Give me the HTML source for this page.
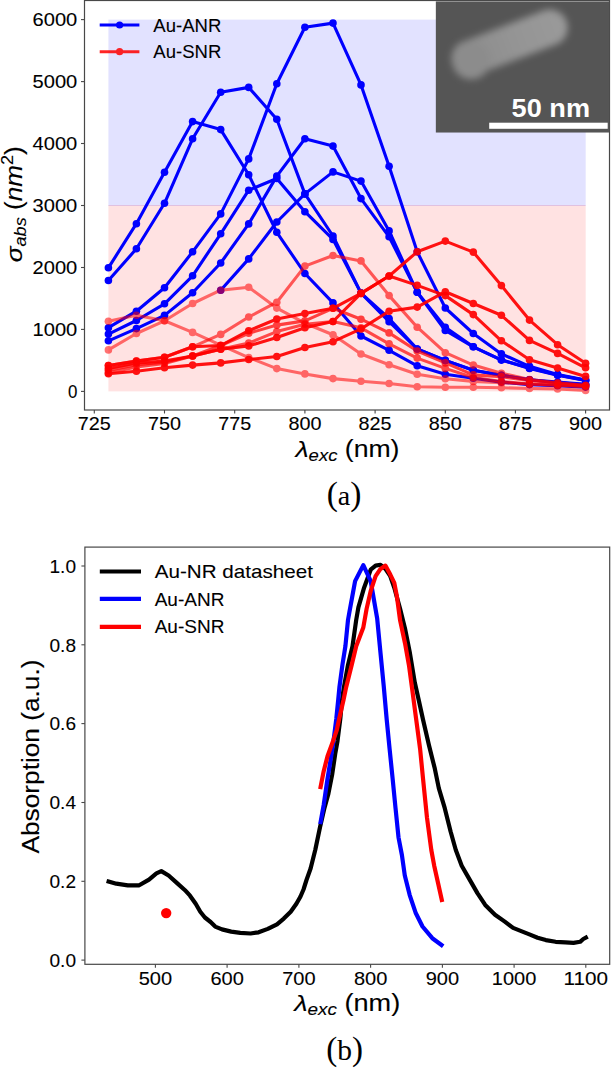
<!DOCTYPE html>
<html><head><meta charset="utf-8"><title>Figure</title>
<style>
html,body{margin:0;padding:0;background:#fff;}
body{width:612px;height:1068px;overflow:hidden;font-family:"Liberation Sans", sans-serif;}
svg{display:block;}
text.t{stroke:#000;stroke-width:0.1px;}
</style></head><body>
<svg width="612" height="1068" viewBox="0 0 612 1068">
<rect x="0" y="0" width="612" height="1068" fill="#fff"/>
<defs>
<filter id="blur3" x="-30%" y="-60%" width="160%" height="220%"><feGaussianBlur stdDeviation="3.6"/></filter>
<filter id="blur1" x="-30%" y="-60%" width="160%" height="220%"><feGaussianBlur stdDeviation="1.2"/></filter>
<clipPath id="insetclip"><rect x="435.6" y="1.2" width="174" height="131.5"/></clipPath>
<linearGradient id="rodg" x1="0" y1="0" x2="1" y2="0">
<stop offset="0" stop-color="#8a8a8a"/><stop offset="0.6" stop-color="#959595"/><stop offset="1" stop-color="#9a9a9a"/>
</linearGradient>
</defs>
<rect x="108.4" y="19.6" width="477.3" height="185.9" fill="#0000ff" fill-opacity="0.115"/>
<rect x="108.4" y="205.5" width="477.3" height="185.9" fill="#ff0000" fill-opacity="0.115"/>
<line x1="108.4" y1="205.5" x2="585.6" y2="205.5" stroke="#c080c0" stroke-opacity="0.35" stroke-width="1"/>
<g opacity="1.0">
<polyline points="108.4,267.8 136.4,223.7 164.5,172.2 192.6,121.6 220.7,129.6 248.7,174.7 276.8,232.3 304.9,273.5 333.0,302.9 361.0,336.0 389.1,350.3 417.2,365.8 445.3,374.2 473.3,378.2 501.4,382.1 529.5,384.6 557.6,385.8 585.6,387.1" fill="none" stroke="#0000ff" stroke-width="3.1" stroke-linejoin="round" stroke-linecap="butt"/>
<circle cx="108.4" cy="267.8" r="3.8" fill="#0000ff"/>
<circle cx="136.4" cy="223.7" r="3.8" fill="#0000ff"/>
<circle cx="164.5" cy="172.2" r="3.8" fill="#0000ff"/>
<circle cx="192.6" cy="121.6" r="3.8" fill="#0000ff"/>
<circle cx="220.7" cy="129.6" r="3.8" fill="#0000ff"/>
<circle cx="248.7" cy="174.7" r="3.8" fill="#0000ff"/>
<circle cx="276.8" cy="232.3" r="3.8" fill="#0000ff"/>
<circle cx="304.9" cy="273.5" r="3.8" fill="#0000ff"/>
<circle cx="333.0" cy="302.9" r="3.8" fill="#0000ff"/>
<circle cx="361.0" cy="336.0" r="3.8" fill="#0000ff"/>
<circle cx="389.1" cy="350.3" r="3.8" fill="#0000ff"/>
<circle cx="417.2" cy="365.8" r="3.8" fill="#0000ff"/>
<circle cx="445.3" cy="374.2" r="3.8" fill="#0000ff"/>
<circle cx="473.3" cy="378.2" r="3.8" fill="#0000ff"/>
<circle cx="501.4" cy="382.1" r="3.8" fill="#0000ff"/>
<circle cx="529.5" cy="384.6" r="3.8" fill="#0000ff"/>
<circle cx="557.6" cy="385.8" r="3.8" fill="#0000ff"/>
<circle cx="585.6" cy="387.1" r="3.8" fill="#0000ff"/>
</g>
<g opacity="1.0">
<polyline points="108.4,280.5 136.4,248.8 164.5,203.3 192.6,138.8 220.7,92.3 248.7,87.4 276.8,119.3 304.9,193.9 333.0,236.0 361.0,293.1 389.1,318.5 417.2,349.0 445.3,360.4 473.3,370.3 501.4,375.2 529.5,379.7 557.6,382.0 585.6,384.3" fill="none" stroke="#0000ff" stroke-width="3.1" stroke-linejoin="round" stroke-linecap="butt"/>
<circle cx="108.4" cy="280.5" r="3.8" fill="#0000ff"/>
<circle cx="136.4" cy="248.8" r="3.8" fill="#0000ff"/>
<circle cx="164.5" cy="203.3" r="3.8" fill="#0000ff"/>
<circle cx="192.6" cy="138.8" r="3.8" fill="#0000ff"/>
<circle cx="220.7" cy="92.3" r="3.8" fill="#0000ff"/>
<circle cx="248.7" cy="87.4" r="3.8" fill="#0000ff"/>
<circle cx="276.8" cy="119.3" r="3.8" fill="#0000ff"/>
<circle cx="304.9" cy="193.9" r="3.8" fill="#0000ff"/>
<circle cx="333.0" cy="236.0" r="3.8" fill="#0000ff"/>
<circle cx="361.0" cy="293.1" r="3.8" fill="#0000ff"/>
<circle cx="389.1" cy="318.5" r="3.8" fill="#0000ff"/>
<circle cx="417.2" cy="349.0" r="3.8" fill="#0000ff"/>
<circle cx="445.3" cy="360.4" r="3.8" fill="#0000ff"/>
<circle cx="473.3" cy="370.3" r="3.8" fill="#0000ff"/>
<circle cx="501.4" cy="375.2" r="3.8" fill="#0000ff"/>
<circle cx="529.5" cy="379.7" r="3.8" fill="#0000ff"/>
<circle cx="557.6" cy="382.0" r="3.8" fill="#0000ff"/>
<circle cx="585.6" cy="384.3" r="3.8" fill="#0000ff"/>
</g>
<g opacity="1.0">
<polyline points="108.4,327.7 136.4,311.2 164.5,287.7 192.6,251.8 220.7,213.9 248.7,158.9 276.8,83.7 304.9,27.3 333.0,23.1 361.0,84.9 389.1,166.3 417.2,251.8 445.3,308.0 473.3,333.5 501.4,353.9 529.5,366.3 557.6,374.4 585.6,379.9" fill="none" stroke="#0000ff" stroke-width="3.1" stroke-linejoin="round" stroke-linecap="butt"/>
<circle cx="108.4" cy="327.7" r="3.8" fill="#0000ff"/>
<circle cx="136.4" cy="311.2" r="3.8" fill="#0000ff"/>
<circle cx="164.5" cy="287.7" r="3.8" fill="#0000ff"/>
<circle cx="192.6" cy="251.8" r="3.8" fill="#0000ff"/>
<circle cx="220.7" cy="213.9" r="3.8" fill="#0000ff"/>
<circle cx="248.7" cy="158.9" r="3.8" fill="#0000ff"/>
<circle cx="276.8" cy="83.7" r="3.8" fill="#0000ff"/>
<circle cx="304.9" cy="27.3" r="3.8" fill="#0000ff"/>
<circle cx="333.0" cy="23.1" r="3.8" fill="#0000ff"/>
<circle cx="361.0" cy="84.9" r="3.8" fill="#0000ff"/>
<circle cx="389.1" cy="166.3" r="3.8" fill="#0000ff"/>
<circle cx="417.2" cy="251.8" r="3.8" fill="#0000ff"/>
<circle cx="445.3" cy="308.0" r="3.8" fill="#0000ff"/>
<circle cx="473.3" cy="333.5" r="3.8" fill="#0000ff"/>
<circle cx="501.4" cy="353.9" r="3.8" fill="#0000ff"/>
<circle cx="529.5" cy="366.3" r="3.8" fill="#0000ff"/>
<circle cx="557.6" cy="374.4" r="3.8" fill="#0000ff"/>
<circle cx="585.6" cy="379.9" r="3.8" fill="#0000ff"/>
</g>
<g opacity="1.0">
<polyline points="108.4,334.1 136.4,320.5 164.5,303.8 192.6,275.8 220.7,233.8 248.7,190.2 276.8,178.5 304.9,211.7 333.0,239.4 361.0,293.1 389.1,321.7 417.2,349.0 445.3,360.4 473.3,370.3 501.4,375.2 529.5,379.7 557.6,382.7 585.6,384.6" fill="none" stroke="#0000ff" stroke-width="3.1" stroke-linejoin="round" stroke-linecap="butt"/>
<circle cx="108.4" cy="334.1" r="3.8" fill="#0000ff"/>
<circle cx="136.4" cy="320.5" r="3.8" fill="#0000ff"/>
<circle cx="164.5" cy="303.8" r="3.8" fill="#0000ff"/>
<circle cx="192.6" cy="275.8" r="3.8" fill="#0000ff"/>
<circle cx="220.7" cy="233.8" r="3.8" fill="#0000ff"/>
<circle cx="248.7" cy="190.2" r="3.8" fill="#0000ff"/>
<circle cx="276.8" cy="178.5" r="3.8" fill="#0000ff"/>
<circle cx="304.9" cy="211.7" r="3.8" fill="#0000ff"/>
<circle cx="333.0" cy="239.4" r="3.8" fill="#0000ff"/>
<circle cx="361.0" cy="293.1" r="3.8" fill="#0000ff"/>
<circle cx="389.1" cy="321.7" r="3.8" fill="#0000ff"/>
<circle cx="417.2" cy="349.0" r="3.8" fill="#0000ff"/>
<circle cx="445.3" cy="360.4" r="3.8" fill="#0000ff"/>
<circle cx="473.3" cy="370.3" r="3.8" fill="#0000ff"/>
<circle cx="501.4" cy="375.2" r="3.8" fill="#0000ff"/>
<circle cx="529.5" cy="379.7" r="3.8" fill="#0000ff"/>
<circle cx="557.6" cy="382.7" r="3.8" fill="#0000ff"/>
<circle cx="585.6" cy="384.6" r="3.8" fill="#0000ff"/>
</g>
<g opacity="1.0">
<polyline points="108.4,340.8 136.4,328.6 164.5,315.4 192.6,292.8 220.7,263.0 248.7,223.9 276.8,176.1 304.9,138.7 333.0,146.1 361.0,198.6 389.1,236.8 417.2,292.3 445.3,330.5 473.3,346.8 501.4,359.8 529.5,368.5 557.6,375.3 585.6,380.4" fill="none" stroke="#0000ff" stroke-width="3.1" stroke-linejoin="round" stroke-linecap="butt"/>
<circle cx="108.4" cy="340.8" r="3.8" fill="#0000ff"/>
<circle cx="136.4" cy="328.6" r="3.8" fill="#0000ff"/>
<circle cx="164.5" cy="315.4" r="3.8" fill="#0000ff"/>
<circle cx="192.6" cy="292.8" r="3.8" fill="#0000ff"/>
<circle cx="220.7" cy="263.0" r="3.8" fill="#0000ff"/>
<circle cx="248.7" cy="223.9" r="3.8" fill="#0000ff"/>
<circle cx="276.8" cy="176.1" r="3.8" fill="#0000ff"/>
<circle cx="304.9" cy="138.7" r="3.8" fill="#0000ff"/>
<circle cx="333.0" cy="146.1" r="3.8" fill="#0000ff"/>
<circle cx="361.0" cy="198.6" r="3.8" fill="#0000ff"/>
<circle cx="389.1" cy="236.8" r="3.8" fill="#0000ff"/>
<circle cx="417.2" cy="292.3" r="3.8" fill="#0000ff"/>
<circle cx="445.3" cy="330.5" r="3.8" fill="#0000ff"/>
<circle cx="473.3" cy="346.8" r="3.8" fill="#0000ff"/>
<circle cx="501.4" cy="359.8" r="3.8" fill="#0000ff"/>
<circle cx="529.5" cy="368.5" r="3.8" fill="#0000ff"/>
<circle cx="557.6" cy="375.3" r="3.8" fill="#0000ff"/>
<circle cx="585.6" cy="380.4" r="3.8" fill="#0000ff"/>
</g>
<g opacity="1.0">
<polyline points="220.7,290.2 248.7,258.9 276.8,222.0 304.9,193.9 333.0,171.9 361.0,181.1 389.1,230.9 417.2,292.3 445.3,327.2 473.3,346.8 501.4,360.1 529.5,368.1 557.6,375.0 585.6,380.2" fill="none" stroke="#0000ff" stroke-width="3.1" stroke-linejoin="round" stroke-linecap="butt"/>
<circle cx="220.7" cy="290.2" r="3.8" fill="#0000ff"/>
<circle cx="248.7" cy="258.9" r="3.8" fill="#0000ff"/>
<circle cx="276.8" cy="222.0" r="3.8" fill="#0000ff"/>
<circle cx="304.9" cy="193.9" r="3.8" fill="#0000ff"/>
<circle cx="333.0" cy="171.9" r="3.8" fill="#0000ff"/>
<circle cx="361.0" cy="181.1" r="3.8" fill="#0000ff"/>
<circle cx="389.1" cy="230.9" r="3.8" fill="#0000ff"/>
<circle cx="417.2" cy="292.3" r="3.8" fill="#0000ff"/>
<circle cx="445.3" cy="327.2" r="3.8" fill="#0000ff"/>
<circle cx="473.3" cy="346.8" r="3.8" fill="#0000ff"/>
<circle cx="501.4" cy="360.1" r="3.8" fill="#0000ff"/>
<circle cx="529.5" cy="368.1" r="3.8" fill="#0000ff"/>
<circle cx="557.6" cy="375.0" r="3.8" fill="#0000ff"/>
<circle cx="585.6" cy="380.2" r="3.8" fill="#0000ff"/>
</g>
<g opacity="0.55">
<polyline points="108.4,321.3 136.4,315.2 164.5,320.8 192.6,332.4 220.7,345.2 248.7,357.6 276.8,368.6 304.9,373.9 333.0,378.6 361.0,381.2 389.1,383.5 417.2,386.7 445.3,387.3 473.3,387.3 501.4,387.7 529.5,388.5 557.6,388.9 585.6,390.5" fill="none" stroke="#ff0000" stroke-width="3.1" stroke-linejoin="round" stroke-linecap="butt"/>
<circle cx="108.4" cy="321.3" r="3.8" fill="#ff0000"/>
<circle cx="136.4" cy="315.2" r="3.8" fill="#ff0000"/>
<circle cx="164.5" cy="320.8" r="3.8" fill="#ff0000"/>
<circle cx="192.6" cy="332.4" r="3.8" fill="#ff0000"/>
<circle cx="220.7" cy="345.2" r="3.8" fill="#ff0000"/>
<circle cx="248.7" cy="357.6" r="3.8" fill="#ff0000"/>
<circle cx="276.8" cy="368.6" r="3.8" fill="#ff0000"/>
<circle cx="304.9" cy="373.9" r="3.8" fill="#ff0000"/>
<circle cx="333.0" cy="378.6" r="3.8" fill="#ff0000"/>
<circle cx="361.0" cy="381.2" r="3.8" fill="#ff0000"/>
<circle cx="389.1" cy="383.5" r="3.8" fill="#ff0000"/>
<circle cx="417.2" cy="386.7" r="3.8" fill="#ff0000"/>
<circle cx="445.3" cy="387.3" r="3.8" fill="#ff0000"/>
<circle cx="473.3" cy="387.3" r="3.8" fill="#ff0000"/>
<circle cx="501.4" cy="387.7" r="3.8" fill="#ff0000"/>
<circle cx="529.5" cy="388.5" r="3.8" fill="#ff0000"/>
<circle cx="557.6" cy="388.9" r="3.8" fill="#ff0000"/>
<circle cx="585.6" cy="390.5" r="3.8" fill="#ff0000"/>
</g>
<g opacity="0.55">
<polyline points="108.4,349.9 136.4,333.5 164.5,320.8 192.6,303.5 220.7,290.2 248.7,287.2 276.8,308.1 304.9,323.2 333.0,334.8 361.0,354.0 389.1,364.7 417.2,374.2 445.3,378.8 473.3,381.4 501.4,382.7 529.5,384.0 557.6,385.2 585.6,386.7" fill="none" stroke="#ff0000" stroke-width="3.1" stroke-linejoin="round" stroke-linecap="butt"/>
<circle cx="108.4" cy="349.9" r="3.8" fill="#ff0000"/>
<circle cx="136.4" cy="333.5" r="3.8" fill="#ff0000"/>
<circle cx="164.5" cy="320.8" r="3.8" fill="#ff0000"/>
<circle cx="192.6" cy="303.5" r="3.8" fill="#ff0000"/>
<circle cx="220.7" cy="290.2" r="3.8" fill="#ff0000"/>
<circle cx="248.7" cy="287.2" r="3.8" fill="#ff0000"/>
<circle cx="276.8" cy="308.1" r="3.8" fill="#ff0000"/>
<circle cx="304.9" cy="323.2" r="3.8" fill="#ff0000"/>
<circle cx="333.0" cy="334.8" r="3.8" fill="#ff0000"/>
<circle cx="361.0" cy="354.0" r="3.8" fill="#ff0000"/>
<circle cx="389.1" cy="364.7" r="3.8" fill="#ff0000"/>
<circle cx="417.2" cy="374.2" r="3.8" fill="#ff0000"/>
<circle cx="445.3" cy="378.8" r="3.8" fill="#ff0000"/>
<circle cx="473.3" cy="381.4" r="3.8" fill="#ff0000"/>
<circle cx="501.4" cy="382.7" r="3.8" fill="#ff0000"/>
<circle cx="529.5" cy="384.0" r="3.8" fill="#ff0000"/>
<circle cx="557.6" cy="385.2" r="3.8" fill="#ff0000"/>
<circle cx="585.6" cy="386.7" r="3.8" fill="#ff0000"/>
</g>
<g opacity="0.68">
<polyline points="108.4,372.8 136.4,367.0 164.5,363.4 192.6,356.0 220.7,349.2 248.7,343.1 276.8,331.6 304.9,324.3 333.0,321.5 361.0,327.8 389.1,343.8 417.2,358.1 445.3,368.4 473.3,377.5 501.4,381.5 529.5,384.0 557.6,385.2 585.6,386.1" fill="none" stroke="#ff0000" stroke-width="3.1" stroke-linejoin="round" stroke-linecap="butt"/>
<circle cx="108.4" cy="372.8" r="3.8" fill="#ff0000"/>
<circle cx="136.4" cy="367.0" r="3.8" fill="#ff0000"/>
<circle cx="164.5" cy="363.4" r="3.8" fill="#ff0000"/>
<circle cx="192.6" cy="356.0" r="3.8" fill="#ff0000"/>
<circle cx="220.7" cy="349.2" r="3.8" fill="#ff0000"/>
<circle cx="248.7" cy="343.1" r="3.8" fill="#ff0000"/>
<circle cx="276.8" cy="331.6" r="3.8" fill="#ff0000"/>
<circle cx="304.9" cy="324.3" r="3.8" fill="#ff0000"/>
<circle cx="333.0" cy="321.5" r="3.8" fill="#ff0000"/>
<circle cx="361.0" cy="327.8" r="3.8" fill="#ff0000"/>
<circle cx="389.1" cy="343.8" r="3.8" fill="#ff0000"/>
<circle cx="417.2" cy="358.1" r="3.8" fill="#ff0000"/>
<circle cx="445.3" cy="368.4" r="3.8" fill="#ff0000"/>
<circle cx="473.3" cy="377.5" r="3.8" fill="#ff0000"/>
<circle cx="501.4" cy="381.5" r="3.8" fill="#ff0000"/>
<circle cx="529.5" cy="384.0" r="3.8" fill="#ff0000"/>
<circle cx="557.6" cy="385.2" r="3.8" fill="#ff0000"/>
<circle cx="585.6" cy="386.1" r="3.8" fill="#ff0000"/>
</g>
<g opacity="0.72">
<polyline points="108.4,370.3 136.4,364.8 164.5,362.3 192.6,356.0 220.7,345.5 248.7,333.3 276.8,325.1 304.9,320.9 333.0,308.3 361.0,319.2 389.1,332.9 417.2,351.0 445.3,362.9 473.3,374.9 501.4,376.8 529.5,380.4 557.6,383.3 585.6,385.5" fill="none" stroke="#ff0000" stroke-width="3.1" stroke-linejoin="round" stroke-linecap="butt"/>
<circle cx="108.4" cy="370.3" r="3.8" fill="#ff0000"/>
<circle cx="136.4" cy="364.8" r="3.8" fill="#ff0000"/>
<circle cx="164.5" cy="362.3" r="3.8" fill="#ff0000"/>
<circle cx="192.6" cy="356.0" r="3.8" fill="#ff0000"/>
<circle cx="220.7" cy="345.5" r="3.8" fill="#ff0000"/>
<circle cx="248.7" cy="333.3" r="3.8" fill="#ff0000"/>
<circle cx="276.8" cy="325.1" r="3.8" fill="#ff0000"/>
<circle cx="304.9" cy="320.9" r="3.8" fill="#ff0000"/>
<circle cx="333.0" cy="308.3" r="3.8" fill="#ff0000"/>
<circle cx="361.0" cy="319.2" r="3.8" fill="#ff0000"/>
<circle cx="389.1" cy="332.9" r="3.8" fill="#ff0000"/>
<circle cx="417.2" cy="351.0" r="3.8" fill="#ff0000"/>
<circle cx="445.3" cy="362.9" r="3.8" fill="#ff0000"/>
<circle cx="473.3" cy="374.9" r="3.8" fill="#ff0000"/>
<circle cx="501.4" cy="376.8" r="3.8" fill="#ff0000"/>
<circle cx="529.5" cy="380.4" r="3.8" fill="#ff0000"/>
<circle cx="557.6" cy="383.3" r="3.8" fill="#ff0000"/>
<circle cx="585.6" cy="385.5" r="3.8" fill="#ff0000"/>
</g>
<g opacity="0.62">
<polyline points="108.4,365.5 136.4,361.0 164.5,357.3 192.6,346.8 220.7,334.4 248.7,317.0 276.8,302.2 304.9,266.1 333.0,255.5 361.0,260.9 389.1,295.6 417.2,327.2 445.3,352.7 473.3,365.1 501.4,373.2 529.5,379.5 557.6,382.8 585.6,385.2" fill="none" stroke="#ff0000" stroke-width="3.1" stroke-linejoin="round" stroke-linecap="butt"/>
<circle cx="108.4" cy="365.5" r="3.8" fill="#ff0000"/>
<circle cx="136.4" cy="361.0" r="3.8" fill="#ff0000"/>
<circle cx="164.5" cy="357.3" r="3.8" fill="#ff0000"/>
<circle cx="192.6" cy="346.8" r="3.8" fill="#ff0000"/>
<circle cx="220.7" cy="334.4" r="3.8" fill="#ff0000"/>
<circle cx="248.7" cy="317.0" r="3.8" fill="#ff0000"/>
<circle cx="276.8" cy="302.2" r="3.8" fill="#ff0000"/>
<circle cx="304.9" cy="266.1" r="3.8" fill="#ff0000"/>
<circle cx="333.0" cy="255.5" r="3.8" fill="#ff0000"/>
<circle cx="361.0" cy="260.9" r="3.8" fill="#ff0000"/>
<circle cx="389.1" cy="295.6" r="3.8" fill="#ff0000"/>
<circle cx="417.2" cy="327.2" r="3.8" fill="#ff0000"/>
<circle cx="445.3" cy="352.7" r="3.8" fill="#ff0000"/>
<circle cx="473.3" cy="365.1" r="3.8" fill="#ff0000"/>
<circle cx="501.4" cy="373.2" r="3.8" fill="#ff0000"/>
<circle cx="529.5" cy="379.5" r="3.8" fill="#ff0000"/>
<circle cx="557.6" cy="382.8" r="3.8" fill="#ff0000"/>
<circle cx="585.6" cy="385.2" r="3.8" fill="#ff0000"/>
</g>
<g opacity="0.92">
<polyline points="108.4,373.8 136.4,371.2 164.5,367.7 192.6,365.1 220.7,362.9 248.7,359.5 276.8,356.5 304.9,347.5 333.0,341.7 361.0,328.9 389.1,311.3 417.2,307.1 445.3,291.7 473.3,303.5 501.4,315.3 529.5,340.4 557.6,353.4 585.6,367.8" fill="none" stroke="#ff0000" stroke-width="3.1" stroke-linejoin="round" stroke-linecap="butt"/>
<circle cx="108.4" cy="373.8" r="3.8" fill="#ff0000"/>
<circle cx="136.4" cy="371.2" r="3.8" fill="#ff0000"/>
<circle cx="164.5" cy="367.7" r="3.8" fill="#ff0000"/>
<circle cx="192.6" cy="365.1" r="3.8" fill="#ff0000"/>
<circle cx="220.7" cy="362.9" r="3.8" fill="#ff0000"/>
<circle cx="248.7" cy="359.5" r="3.8" fill="#ff0000"/>
<circle cx="276.8" cy="356.5" r="3.8" fill="#ff0000"/>
<circle cx="304.9" cy="347.5" r="3.8" fill="#ff0000"/>
<circle cx="333.0" cy="341.7" r="3.8" fill="#ff0000"/>
<circle cx="361.0" cy="328.9" r="3.8" fill="#ff0000"/>
<circle cx="389.1" cy="311.3" r="3.8" fill="#ff0000"/>
<circle cx="417.2" cy="307.1" r="3.8" fill="#ff0000"/>
<circle cx="445.3" cy="291.7" r="3.8" fill="#ff0000"/>
<circle cx="473.3" cy="303.5" r="3.8" fill="#ff0000"/>
<circle cx="501.4" cy="315.3" r="3.8" fill="#ff0000"/>
<circle cx="529.5" cy="340.4" r="3.8" fill="#ff0000"/>
<circle cx="557.6" cy="353.4" r="3.8" fill="#ff0000"/>
<circle cx="585.6" cy="367.8" r="3.8" fill="#ff0000"/>
</g>
<g opacity="0.92">
<polyline points="108.4,368.5 136.4,363.1 164.5,361.0 192.6,356.0 220.7,349.2 248.7,345.9 276.8,337.5 304.9,327.8 333.0,321.5 361.0,293.4 389.1,276.0 417.2,285.4 445.3,295.6 473.3,314.6 501.4,340.8 529.5,359.7 557.6,368.1 585.6,376.4" fill="none" stroke="#ff0000" stroke-width="3.1" stroke-linejoin="round" stroke-linecap="butt"/>
<circle cx="108.4" cy="368.5" r="3.8" fill="#ff0000"/>
<circle cx="136.4" cy="363.1" r="3.8" fill="#ff0000"/>
<circle cx="164.5" cy="361.0" r="3.8" fill="#ff0000"/>
<circle cx="192.6" cy="356.0" r="3.8" fill="#ff0000"/>
<circle cx="220.7" cy="349.2" r="3.8" fill="#ff0000"/>
<circle cx="248.7" cy="345.9" r="3.8" fill="#ff0000"/>
<circle cx="276.8" cy="337.5" r="3.8" fill="#ff0000"/>
<circle cx="304.9" cy="327.8" r="3.8" fill="#ff0000"/>
<circle cx="333.0" cy="321.5" r="3.8" fill="#ff0000"/>
<circle cx="361.0" cy="293.4" r="3.8" fill="#ff0000"/>
<circle cx="389.1" cy="276.0" r="3.8" fill="#ff0000"/>
<circle cx="417.2" cy="285.4" r="3.8" fill="#ff0000"/>
<circle cx="445.3" cy="295.6" r="3.8" fill="#ff0000"/>
<circle cx="473.3" cy="314.6" r="3.8" fill="#ff0000"/>
<circle cx="501.4" cy="340.8" r="3.8" fill="#ff0000"/>
<circle cx="529.5" cy="359.7" r="3.8" fill="#ff0000"/>
<circle cx="557.6" cy="368.1" r="3.8" fill="#ff0000"/>
<circle cx="585.6" cy="376.4" r="3.8" fill="#ff0000"/>
</g>
<g opacity="0.92">
<polyline points="108.4,365.5 136.4,361.0 164.5,357.3 192.6,346.8 220.7,345.5 248.7,330.7 276.8,319.0 304.9,313.6 333.0,308.3 361.0,293.4 389.1,276.0 417.2,251.8 445.3,241.1 473.3,252.1 501.4,285.6 529.5,320.1 557.6,344.7 585.6,363.3" fill="none" stroke="#ff0000" stroke-width="3.1" stroke-linejoin="round" stroke-linecap="butt"/>
<circle cx="108.4" cy="365.5" r="3.8" fill="#ff0000"/>
<circle cx="136.4" cy="361.0" r="3.8" fill="#ff0000"/>
<circle cx="164.5" cy="357.3" r="3.8" fill="#ff0000"/>
<circle cx="192.6" cy="346.8" r="3.8" fill="#ff0000"/>
<circle cx="220.7" cy="345.5" r="3.8" fill="#ff0000"/>
<circle cx="248.7" cy="330.7" r="3.8" fill="#ff0000"/>
<circle cx="276.8" cy="319.0" r="3.8" fill="#ff0000"/>
<circle cx="304.9" cy="313.6" r="3.8" fill="#ff0000"/>
<circle cx="333.0" cy="308.3" r="3.8" fill="#ff0000"/>
<circle cx="361.0" cy="293.4" r="3.8" fill="#ff0000"/>
<circle cx="389.1" cy="276.0" r="3.8" fill="#ff0000"/>
<circle cx="417.2" cy="251.8" r="3.8" fill="#ff0000"/>
<circle cx="445.3" cy="241.1" r="3.8" fill="#ff0000"/>
<circle cx="473.3" cy="252.1" r="3.8" fill="#ff0000"/>
<circle cx="501.4" cy="285.6" r="3.8" fill="#ff0000"/>
<circle cx="529.5" cy="320.1" r="3.8" fill="#ff0000"/>
<circle cx="557.6" cy="344.7" r="3.8" fill="#ff0000"/>
<circle cx="585.6" cy="363.3" r="3.8" fill="#ff0000"/>
</g>
<rect x="84.5" y="0.5" width="525.0" height="409.5" fill="none" stroke="#484848" stroke-width="1.2"/>
<line x1="94.3" y1="410.0" x2="94.3" y2="413.5" stroke="#484848" stroke-width="1.1"/>
<text class="t" x="94.3" y="430.4" font-size="19" font-family='"Liberation Sans", sans-serif' text-anchor="middle" fill="#000" textLength="33.0" lengthAdjust="spacingAndGlyphs" >725</text>
<line x1="164.5" y1="410.0" x2="164.5" y2="413.5" stroke="#484848" stroke-width="1.1"/>
<text class="t" x="164.5" y="430.4" font-size="19" font-family='"Liberation Sans", sans-serif' text-anchor="middle" fill="#000" textLength="33.0" lengthAdjust="spacingAndGlyphs" >750</text>
<line x1="234.7" y1="410.0" x2="234.7" y2="413.5" stroke="#484848" stroke-width="1.1"/>
<text class="t" x="234.7" y="430.4" font-size="19" font-family='"Liberation Sans", sans-serif' text-anchor="middle" fill="#000" textLength="33.0" lengthAdjust="spacingAndGlyphs" >775</text>
<line x1="304.9" y1="410.0" x2="304.9" y2="413.5" stroke="#484848" stroke-width="1.1"/>
<text class="t" x="304.9" y="430.4" font-size="19" font-family='"Liberation Sans", sans-serif' text-anchor="middle" fill="#000" textLength="33.0" lengthAdjust="spacingAndGlyphs" >800</text>
<line x1="375.1" y1="410.0" x2="375.1" y2="413.5" stroke="#484848" stroke-width="1.1"/>
<text class="t" x="375.1" y="430.4" font-size="19" font-family='"Liberation Sans", sans-serif' text-anchor="middle" fill="#000" textLength="33.0" lengthAdjust="spacingAndGlyphs" >825</text>
<line x1="445.3" y1="410.0" x2="445.3" y2="413.5" stroke="#484848" stroke-width="1.1"/>
<text class="t" x="445.3" y="430.4" font-size="19" font-family='"Liberation Sans", sans-serif' text-anchor="middle" fill="#000" textLength="33.0" lengthAdjust="spacingAndGlyphs" >850</text>
<line x1="515.4" y1="410.0" x2="515.4" y2="413.5" stroke="#484848" stroke-width="1.1"/>
<text class="t" x="515.4" y="430.4" font-size="19" font-family='"Liberation Sans", sans-serif' text-anchor="middle" fill="#000" textLength="33.0" lengthAdjust="spacingAndGlyphs" >875</text>
<line x1="585.6" y1="410.0" x2="585.6" y2="413.5" stroke="#484848" stroke-width="1.1"/>
<text class="t" x="585.6" y="430.4" font-size="19" font-family='"Liberation Sans", sans-serif' text-anchor="middle" fill="#000" textLength="33.0" lengthAdjust="spacingAndGlyphs" >900</text>
<line x1="81.0" y1="391.4" x2="84.5" y2="391.4" stroke="#484848" stroke-width="1.1"/>
<text class="t" x="77.3" y="398.2" font-size="19" font-family='"Liberation Sans", sans-serif' text-anchor="end" fill="#000" textLength="9.4" lengthAdjust="spacingAndGlyphs" >0</text>
<line x1="81.0" y1="329.4" x2="84.5" y2="329.4" stroke="#484848" stroke-width="1.1"/>
<text class="t" x="77.3" y="336.2" font-size="19" font-family='"Liberation Sans", sans-serif' text-anchor="end" fill="#000" textLength="44.7" lengthAdjust="spacingAndGlyphs" >1000</text>
<line x1="81.0" y1="267.5" x2="84.5" y2="267.5" stroke="#484848" stroke-width="1.1"/>
<text class="t" x="77.3" y="274.3" font-size="19" font-family='"Liberation Sans", sans-serif' text-anchor="end" fill="#000" textLength="44.7" lengthAdjust="spacingAndGlyphs" >2000</text>
<line x1="81.0" y1="205.5" x2="84.5" y2="205.5" stroke="#484848" stroke-width="1.1"/>
<text class="t" x="77.3" y="212.3" font-size="19" font-family='"Liberation Sans", sans-serif' text-anchor="end" fill="#000" textLength="44.7" lengthAdjust="spacingAndGlyphs" >3000</text>
<line x1="81.0" y1="143.5" x2="84.5" y2="143.5" stroke="#484848" stroke-width="1.1"/>
<text class="t" x="77.3" y="150.3" font-size="19" font-family='"Liberation Sans", sans-serif' text-anchor="end" fill="#000" textLength="44.7" lengthAdjust="spacingAndGlyphs" >4000</text>
<line x1="81.0" y1="81.6" x2="84.5" y2="81.6" stroke="#484848" stroke-width="1.1"/>
<text class="t" x="77.3" y="88.4" font-size="19" font-family='"Liberation Sans", sans-serif' text-anchor="end" fill="#000" textLength="44.7" lengthAdjust="spacingAndGlyphs" >5000</text>
<line x1="81.0" y1="19.6" x2="84.5" y2="19.6" stroke="#484848" stroke-width="1.1"/>
<text class="t" x="77.3" y="26.4" font-size="19" font-family='"Liberation Sans", sans-serif' text-anchor="end" fill="#000" textLength="44.7" lengthAdjust="spacingAndGlyphs" >6000</text>
<text class="t" x="347.5" y="456.9" font-size="23" font-family='"Liberation Sans", sans-serif' text-anchor="middle" textLength="104" lengthAdjust="spacingAndGlyphs"><tspan font-style="italic">λ</tspan><tspan font-size="16" dy="4" font-style="italic">exc</tspan><tspan dy="-4"> (nm)</tspan></text>
<text class="t" transform="translate(21.6,204.3) rotate(-90)" x="0" y="0" font-size="23" font-family='"Liberation Sans", sans-serif' text-anchor="middle" textLength="116" lengthAdjust="spacingAndGlyphs"><tspan font-style="italic">σ</tspan><tspan font-size="16" dy="4" font-style="italic">abs</tspan><tspan dy="-4"> (</tspan><tspan font-style="italic">nm</tspan><tspan font-size="16" dy="-9">2</tspan><tspan dy="9">)</tspan></text>
<line x1="99.7" y1="25" x2="139.4" y2="25" stroke="#0000ff" stroke-width="3"/>
<circle cx="119.6" cy="25" r="3.6" fill="#0000ff"/>
<g opacity="0.85"><line x1="99.7" y1="51.7" x2="139.4" y2="51.7" stroke="#ff0000" stroke-width="3"/>
<circle cx="119.6" cy="51.7" r="3.6" fill="#ff0000"/></g>
<text class="t" x="153.3" y="31.9" font-size="19" font-family='"Liberation Sans", sans-serif' text-anchor="start" fill="#000" textLength="68.0" lengthAdjust="spacingAndGlyphs" >Au-ANR</text>
<text class="t" x="153.3" y="58.3" font-size="19" font-family='"Liberation Sans", sans-serif' text-anchor="start" fill="#000" textLength="68.0" lengthAdjust="spacingAndGlyphs" >Au-SNR</text>
<g clip-path="url(#insetclip)">
<rect x="435.6" y="1.2" width="174" height="131.5" fill="#555555"/>
<g filter="url(#blur3)" transform="translate(509.5,43) rotate(-21)"><rect x="-61" y="-18" width="122" height="36" rx="18" ry="18" fill="url(#rodg)"/><ellipse cx="-42" cy="2.5" rx="19" ry="19" fill="#8c8c8c"/></g>
</g>
<rect x="489.2" y="122.7" width="118.5" height="6.1" fill="#ffffff"/>
<text x="550.8" y="116.5" font-size="25" font-family='"Liberation Sans", sans-serif' text-anchor="middle" fill="#ffffff" textLength="78.5" lengthAdjust="spacingAndGlyphs" font-weight="bold" >50 nm</text>
<text x="344.0" y="505.3" font-family='"Liberation Serif", serif' text-anchor="middle" fill="#000"><tspan font-size="33.5">(</tspan><tspan font-size="28">a</tspan><tspan font-size="33.5">)</tspan></text>
<polyline points="108.6,881.6 116.3,883.7 127.8,885.3 139.2,885.3 149.0,879.6 156.4,873.4 161.3,871.1 168.6,875.5 176.8,882.9 185.0,890.2 190.0,895.7 195.7,903.7 200.3,911.7 204.9,917.5 210.6,922.0 215.2,926.6 222.0,929.4 231.2,931.6 240.3,932.8 250.6,933.5 258.6,932.3 267.8,928.9 277.0,924.3 283.8,918.6 290.7,911.7 296.4,903.7 300.5,896.5 303.5,889.5 306.5,880.0 310.6,868.5 315.3,849.8 320.0,827.3 324.2,809.0 328.4,793.6 332.1,774.9 335.2,754.0 337.5,741.1 340.3,718.7 342.0,700.0 343.9,687.4 348.0,665.0 352.5,646.2 356.2,620.0 358.4,607.3 364.1,587.7 370.7,569.7 375.6,565.6 380.5,564.8 385.4,568.9 390.3,576.2 394.3,587.7 400.1,608.9 405.0,628.5 409.9,653.0 414.8,682.5 418.5,699.0 423.0,719.5 428.9,745.0 434.8,768.6 438.8,788.2 444.7,807.9 450.6,831.5 455.8,850.0 461.7,865.7 469.5,879.4 477.4,893.1 485.2,904.9 495.0,914.7 504.8,921.6 513.1,927.9 521.2,931.1 529.4,934.4 537.6,937.7 545.8,940.1 555.6,941.8 565.4,942.3 573.5,942.9 580.1,941.8 583.3,939.0 585.9,937.6" fill="none" stroke="#000000" stroke-width="4.2" stroke-linejoin="round" stroke-linecap="square"/>
<polyline points="320.6,822.0 323.7,804.9 327.5,778.7 330.3,761.8 333.5,741.1 336.3,718.7 338.2,700.0 339.4,687.4 342.4,665.0 345.4,646.2 348.0,620.0 349.4,612.2 355.1,581.1 363.3,565.1 370.7,581.1 377.2,618.7 380.5,653.0 383.7,685.7 386.7,719.5 389.6,748.9 392.6,778.4 395.5,807.9 398.5,837.3 401.9,855.0 404.8,875.5 409.7,895.1 415.6,912.7 422.5,926.5 432.3,938.2 441.5,945.0" fill="none" stroke="#0000ff" stroke-width="4.2" stroke-linejoin="round" stroke-linecap="square"/>
<polyline points="320.6,787.0 323.7,771.2 327.5,756.2 333.0,741.1 336.8,730.0 339.2,718.7 343.5,700.0 346.1,687.4 351.7,665.0 356.2,646.2 363.3,627.5 366.6,608.9 370.7,591.0 375.6,576.2 380.5,568.9 385.4,565.6 390.3,574.6 394.3,582.8 396.8,595.8 400.1,620.4 405.0,643.2 409.1,666.1 412.3,690.0 416.2,719.5 420.1,748.9 423.0,778.4 427.0,817.7 431.3,850.0 434.2,865.7 438.1,883.3 441.8,900.0" fill="none" stroke="#ff0000" stroke-width="4.2" stroke-linejoin="round" stroke-linecap="square"/>
<circle cx="166.2" cy="913.1" r="5.2" fill="#ff0000"/>
<rect x="84.9" y="547.1" width="524.8" height="417.2" fill="none" stroke="#484848" stroke-width="1.2"/>
<line x1="155.4" y1="964.3" x2="155.4" y2="967.8" stroke="#484848" stroke-width="1.1"/>
<text class="t" x="155.4" y="985.1" font-size="19" font-family='"Liberation Sans", sans-serif' text-anchor="middle" fill="#000" textLength="33.4" lengthAdjust="spacingAndGlyphs" >500</text>
<line x1="227.1" y1="964.3" x2="227.1" y2="967.8" stroke="#484848" stroke-width="1.1"/>
<text class="t" x="227.1" y="985.1" font-size="19" font-family='"Liberation Sans", sans-serif' text-anchor="middle" fill="#000" textLength="33.4" lengthAdjust="spacingAndGlyphs" >600</text>
<line x1="298.9" y1="964.3" x2="298.9" y2="967.8" stroke="#484848" stroke-width="1.1"/>
<text class="t" x="298.9" y="985.1" font-size="19" font-family='"Liberation Sans", sans-serif' text-anchor="middle" fill="#000" textLength="33.4" lengthAdjust="spacingAndGlyphs" >700</text>
<line x1="370.6" y1="964.3" x2="370.6" y2="967.8" stroke="#484848" stroke-width="1.1"/>
<text class="t" x="370.6" y="985.1" font-size="19" font-family='"Liberation Sans", sans-serif' text-anchor="middle" fill="#000" textLength="33.4" lengthAdjust="spacingAndGlyphs" >800</text>
<line x1="442.4" y1="964.3" x2="442.4" y2="967.8" stroke="#484848" stroke-width="1.1"/>
<text class="t" x="442.4" y="985.1" font-size="19" font-family='"Liberation Sans", sans-serif' text-anchor="middle" fill="#000" textLength="33.4" lengthAdjust="spacingAndGlyphs" >900</text>
<line x1="514.1" y1="964.3" x2="514.1" y2="967.8" stroke="#484848" stroke-width="1.1"/>
<text class="t" x="514.1" y="985.1" font-size="19" font-family='"Liberation Sans", sans-serif' text-anchor="middle" fill="#000" textLength="44.5" lengthAdjust="spacingAndGlyphs" >1000</text>
<line x1="585.8" y1="964.3" x2="585.8" y2="967.8" stroke="#484848" stroke-width="1.1"/>
<text class="t" x="585.8" y="985.1" font-size="19" font-family='"Liberation Sans", sans-serif' text-anchor="middle" fill="#000" textLength="44.5" lengthAdjust="spacingAndGlyphs" >1100</text>
<line x1="81.4" y1="960.1" x2="84.9" y2="960.1" stroke="#484848" stroke-width="1.1"/>
<text class="t" x="76.0" y="966.9" font-size="19" font-family='"Liberation Sans", sans-serif' text-anchor="end" fill="#000" textLength="26.5" lengthAdjust="spacingAndGlyphs" >0.0</text>
<line x1="81.4" y1="881.3" x2="84.9" y2="881.3" stroke="#484848" stroke-width="1.1"/>
<text class="t" x="76.0" y="888.1" font-size="19" font-family='"Liberation Sans", sans-serif' text-anchor="end" fill="#000" textLength="26.5" lengthAdjust="spacingAndGlyphs" >0.2</text>
<line x1="81.4" y1="802.5" x2="84.9" y2="802.5" stroke="#484848" stroke-width="1.1"/>
<text class="t" x="76.0" y="809.3" font-size="19" font-family='"Liberation Sans", sans-serif' text-anchor="end" fill="#000" textLength="26.5" lengthAdjust="spacingAndGlyphs" >0.4</text>
<line x1="81.4" y1="723.6" x2="84.9" y2="723.6" stroke="#484848" stroke-width="1.1"/>
<text class="t" x="76.0" y="730.4" font-size="19" font-family='"Liberation Sans", sans-serif' text-anchor="end" fill="#000" textLength="26.5" lengthAdjust="spacingAndGlyphs" >0.6</text>
<line x1="81.4" y1="644.8" x2="84.9" y2="644.8" stroke="#484848" stroke-width="1.1"/>
<text class="t" x="76.0" y="651.6" font-size="19" font-family='"Liberation Sans", sans-serif' text-anchor="end" fill="#000" textLength="26.5" lengthAdjust="spacingAndGlyphs" >0.8</text>
<line x1="81.4" y1="566.0" x2="84.9" y2="566.0" stroke="#484848" stroke-width="1.1"/>
<text class="t" x="76.0" y="572.8" font-size="19" font-family='"Liberation Sans", sans-serif' text-anchor="end" fill="#000" textLength="26.5" lengthAdjust="spacingAndGlyphs" >1.0</text>
<text class="t" x="347.2" y="1011.3" font-size="23" font-family='"Liberation Sans", sans-serif' text-anchor="middle" textLength="106" lengthAdjust="spacingAndGlyphs"><tspan font-style="italic">λ</tspan><tspan font-size="16" dy="4" font-style="italic">exc</tspan><tspan dy="-4"> (nm)</tspan></text>
<text class="t" transform="translate(38.8,756.5) rotate(-90)" x="0" y="0" font-size="23" font-family='"Liberation Sans", sans-serif' text-anchor="middle" textLength="194" lengthAdjust="spacingAndGlyphs">Absorption (a.u.)</text>
<line x1="99.8" y1="571.5" x2="141" y2="571.5" stroke="#000000" stroke-width="4.2"/>
<text class="t" x="154.7" y="578.1" font-size="19" font-family='"Liberation Sans", sans-serif' text-anchor="start" fill="#000" textLength="158.2" lengthAdjust="spacingAndGlyphs" >Au-NR datasheet</text>
<line x1="99.8" y1="598.9" x2="141" y2="598.9" stroke="#0000ff" stroke-width="4.2"/>
<text class="t" x="154.7" y="605.5" font-size="19" font-family='"Liberation Sans", sans-serif' text-anchor="start" fill="#000" textLength="69.7" lengthAdjust="spacingAndGlyphs" >Au-ANR</text>
<line x1="99.8" y1="626.8" x2="141" y2="626.8" stroke="#ff0000" stroke-width="4.2"/>
<text class="t" x="154.7" y="633.4" font-size="19" font-family='"Liberation Sans", sans-serif' text-anchor="start" fill="#000" textLength="69.7" lengthAdjust="spacingAndGlyphs" >Au-SNR</text>
<text x="344.6" y="1060.4" font-family='"Liberation Serif", serif' text-anchor="middle" fill="#000"><tspan font-size="33">(</tspan><tspan font-size="29.5">b</tspan><tspan font-size="33">)</tspan></text>
</svg>
</body></html>
